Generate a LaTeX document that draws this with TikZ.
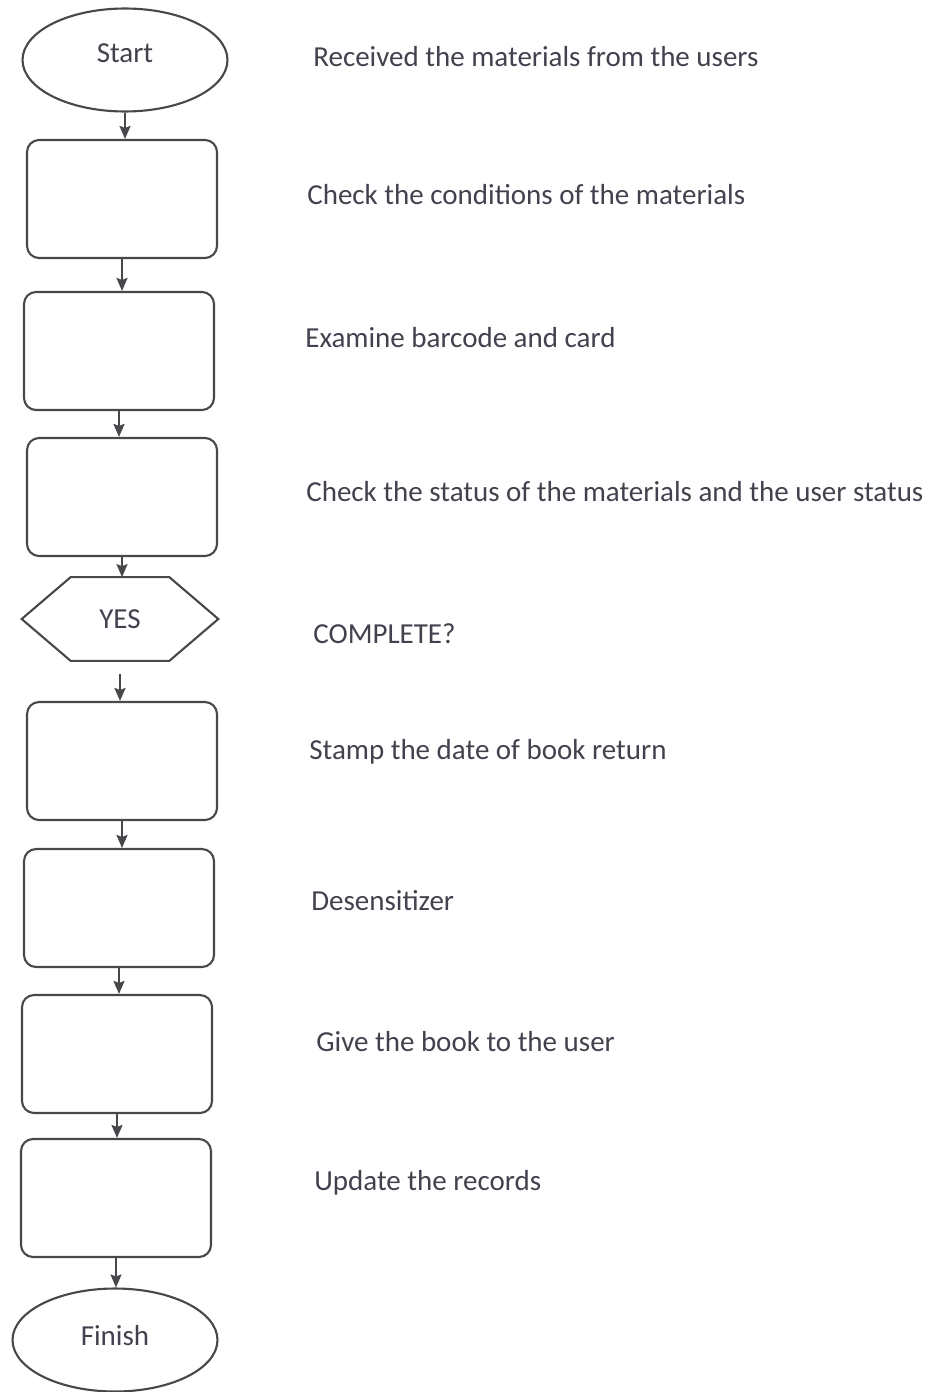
\documentclass[tikz,border=0pt]{standalone}
\usepackage{fontspec}
\setmainfont{Carlito}
\usetikzlibrary{shapes.geometric,arrows.meta}
\definecolor{inkline}{RGB}{72,72,76}
\definecolor{inktext}{RGB}{66,66,78}
\begin{document}
\begin{tikzpicture}[x=0.02cm,y=-0.02cm,
  every node/.style={font=\fontsize{16.5}{20}\selectfont,text=inktext},
  stepbox/.style={draw=inkline,line width=1.2pt,rounded corners=0.24cm,minimum width=3.8cm,minimum height=2.36cm},
  endcap/.style={draw=inkline,line width=1.2pt,ellipse,minimum width=4.1cm,minimum height=2.06cm},
  arr/.style={-{Stealth[length=0.26cm,width=0.22cm,inset=0.04cm]},draw=inkline,line width=1.2pt}]
\useasboundingbox (0,0) rectangle (942,1392);
% terminals
\node[endcap,text depth=0.28cm] (start) at (125,60) {Start};
\node[endcap,text depth=0.2cm] (finish) at (115,1340) {Finish};
% process boxes
\foreach \n/\x/\y in {b1/122/199,b2/119/351,b3/122/497,b4/122/761,b5/119/908,b6/117/1054,b7/116/1198}
  {\node[stepbox] (\n) at (\x,\y) {};}
% decision
\node[minimum width=3.92cm,minimum height=1.66cm] (chk) at (120,619) {YES};
\draw[inkline,line width=1.2pt] ([xshift=0.98cm]chk.north west) -- ([xshift=-0.98cm]chk.north east) -- (chk.east)
  -- ([xshift=-0.98cm]chk.south east) -- ([xshift=0.98cm]chk.south west) -- (chk.west) -- cycle;
% flow
\foreach \a/\b in {start/b1,b1/b2,b2/b3,b3/chk,b4/b5,b5/b6,b6/b7,b7/finish}
  {\draw[arr] (\a.south) -- (\a.south |- \b.north);}
\draw[arr,shorten <=0.26cm] (chk.south) -- (chk.south |- b4.north);
% descriptions
\foreach \n/\x/\y/\t in {t0/313/57/Received the materials from the users,
  t1/307/195/Check the conditions of the materials,
  t2/305/338/Examine barcode and card,
  t3/306/492/Check the status of the materials and the user status,
  t4/313/634/COMPLETE?,
  t5/309/752/Stamp the date of book return,
  t6/311/901/Desensitizer,
  t7/316/1042/Give the book to the user,
  t8/314/1183/Update the records}
  {\node[anchor=west,inner sep=0pt] (\n) at (\x,\y) {\t};}
\end{tikzpicture}
\end{document}
